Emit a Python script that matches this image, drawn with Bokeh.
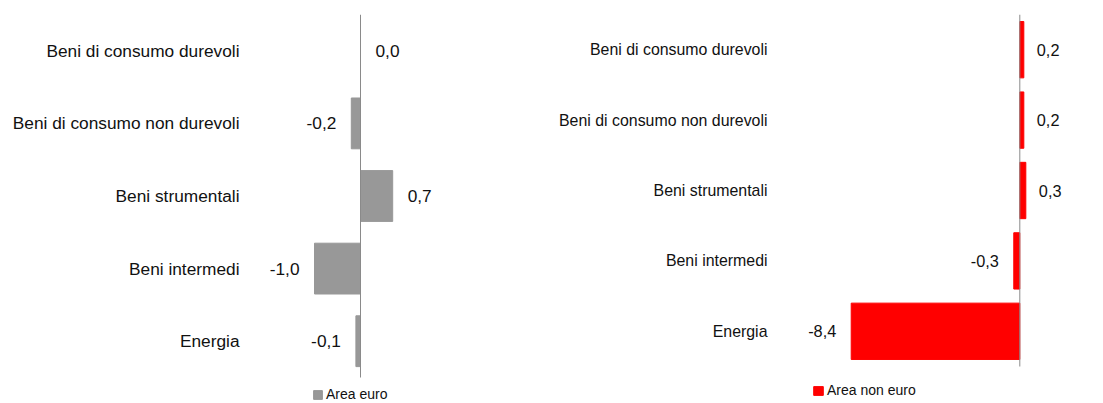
from bokeh.plotting import figure
from bokeh.models import Range1d, ColumnDataSource, FixedTicker
from bokeh.layouts import row
from bokeh.embed import file_html
from bokeh.resources import INLINE
from bokeh.core.properties import value

# ---- data ----
categories = [
    "Beni di consumo durevoli",
    "Beni di consumo non durevoli",
    "Beni strumentali",
    "Beni intermedi",
    "Energia",
]
euro_values = [0.0, -0.2, 0.7, -1.0, -0.1]
non_euro_values = [0.2, 0.2, 0.3, -0.3, -8.4]
series_names = ["Area euro", "Area non euro"]

FONT = "Liberation Sans"
N = len(categories)
positions = [N - 1 - i for i in range(N)]  # first category on top


def fmt(v):
    return f"{v:.1f}".replace(".", ",")


def make_panel(vals, name, color, width, x_start, x_end, border_left, border_right,
               y_bottom, bar_height, cat_size, val_size, val_offset,
               legend_loc, glyph_w, glyph_h, standoff):
    p = figure(
        width=width, height=403,
        y_range=Range1d(y_bottom, N - 0.5),
        x_range=Range1d(x_start, x_end),
        output_backend="svg", toolbar_location=None,
        min_border_left=border_left, min_border_right=border_right,
        min_border_top=14, min_border_bottom=0,
    )
    p.outline_line_color = None
    p.background_fill_color = "white"
    p.border_fill_color = "white"
    p.xgrid.visible = False
    p.ygrid.visible = False
    p.xaxis.visible = False

    ya = p.yaxis[0]
    ya.ticker = FixedTicker(ticks=positions, minor_ticks=[])
    ya.major_label_overrides = {pos: cat for pos, cat in zip(positions, categories)}
    ya.axis_line_color = None
    ya.major_tick_line_color = None
    ya.minor_tick_line_color = None
    ya.major_tick_out = 0
    ya.major_tick_in = 0
    ya.major_label_standoff = 11
    ya.major_label_text_font = FONT
    ya.major_label_text_font_size = cat_size
    ya.major_label_text_color = "#111111"

    labels = [fmt(v) for v in vals]
    align = ["left" if v >= 0 else "right" for v in vals]
    offs = [val_offset if v >= 0 else -15 for v in vals]
    src = ColumnDataSource(dict(pos=positions, val=vals, lab=labels,
                                align=align, off=offs))

    p.hbar(y="pos", left=0, right="val", height=bar_height, source=src,
           fill_color=color, line_color=color, legend_label=name)

    p.text(x="val", y="pos", text="lab", source=src,
           text_align="align", x_offset="off", text_baseline="middle",
           text_font=value(FONT), text_font_size=val_size,
           text_color="#111111")

    # zero line spanning the category bands
    p.segment(x0=[0], y0=[-0.5], x1=[0], y1=[N - 0.5],
              line_color="#8a8a8a", line_width=1)

    lg = p.legend[0]
    lg.location = legend_loc
    lg.border_line_color = None
    lg.background_fill_alpha = 0
    lg.padding = 0
    lg.margin = 0
    lg.spacing = 0
    lg.glyph_width = glyph_w
    lg.glyph_height = glyph_h
    lg.label_standoff = standoff
    lg.label_text_font = FONT
    lg.label_text_font_size = "14px"
    lg.label_text_color = "#111111"
    lg.label_height = glyph_h
    return p


# left panel: frame x 250..540 (zero at 360, 46 px/unit); bands 72.6 px from y=14
p1 = make_panel(euro_values, series_names[0], "#989898", 548,
                -110 / 46, 180 / 46, 250, 8,
                N - 0.5 - 389 / 72.6, 0.70,
                "17.3px", "17.3px", 15, (62, 1), 11, 11, 3)

# right panel: frame x 778..1103 (zero at 1019.3, 20.07 px/unit); bands 70.4 px
p2 = make_panel(non_euro_values, series_names[1], "#ff0000", 555,
                -241.3 / 20.07, 83.7 / 20.07, 230, 0,
                N - 0.5 - 389 / 70.4, 0.80,
                "15.9px", "16.3px", 13, (34, 5), 12, 11, 3)

layout = row(p1, p2)
open("out.html", "w").write(file_html(layout, INLINE))
